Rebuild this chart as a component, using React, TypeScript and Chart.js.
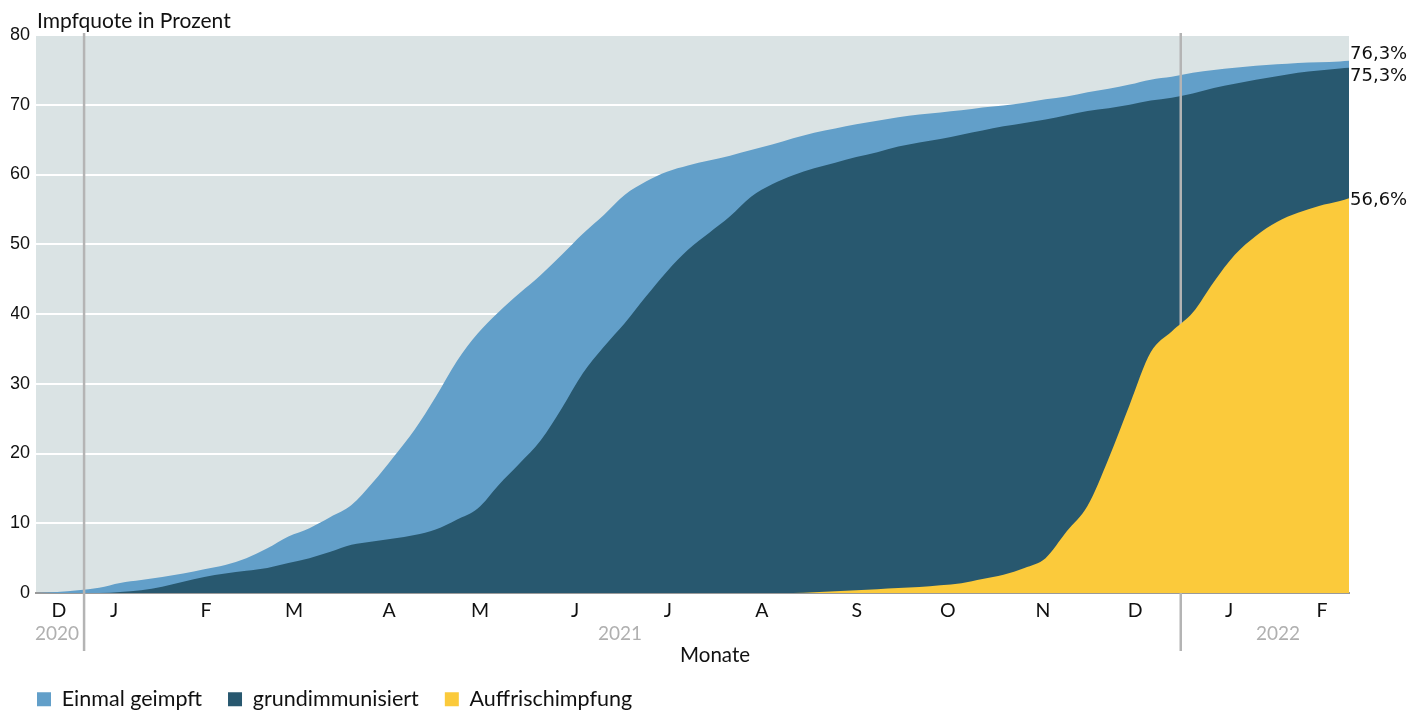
import React, { useEffect, useRef } from "react";
import { Chart, registerables } from "chart.js";

Chart.register(...registerables);

// Day index 0 = 16 Dec 2020, weekly samples, last = 26 Feb 2022
const days = [
  0, 7, 14, 21, 28, 35, 42, 49, 56, 63, 70, 77, 84, 91, 98, 105, 112, 119, 126, 133,
  140, 147, 154, 161, 168, 175, 182, 189, 196, 203, 210, 217, 224, 231, 238, 245, 252,
  259, 266, 273, 280, 287, 294, 301, 308, 315, 322, 329, 336, 343, 350, 357, 364, 371,
  378, 385, 392, 399, 406, 413, 420, 427, 434, 437,
];

const einmalGeimpft = [
  0, 0.15, 0.4, 0.76, 1.45, 1.86, 2.3, 2.8, 3.4, 4.0, 5.0, 6.4, 8.1, 9.3, 10.9, 12.6,
  15.8, 19.5, 23.4, 28.1, 33.2, 37.2, 40.3, 43.0, 45.6, 48.5, 51.5, 54.2, 57.1, 59.0,
  60.4, 61.3, 62.0, 62.7, 63.5, 64.3, 65.2, 66.0, 66.6, 67.2, 67.7, 68.2, 68.6, 68.9,
  69.2, 69.6, 69.9, 70.3, 70.8, 71.2, 71.8, 72.3, 72.9, 73.6, 74.0, 74.6, 75.0, 75.3,
  75.6, 75.8, 76.0, 76.1, 76.2, 76.3,
];

const grundimmunisiert = [
  0, 0, 0, 0, 0.15, 0.4, 0.9, 1.6, 2.3, 2.8, 3.2, 3.6, 4.3, 5.0, 5.9, 6.9, 7.4, 7.8,
  8.3, 9.1, 10.5, 12.1, 15.5, 18.6, 21.9, 26.5, 31.5, 35.3, 38.7, 42.5, 46.1, 49.2,
  51.6, 54.0, 56.8, 58.6, 59.9, 60.9, 61.7, 62.5, 63.2, 64.0, 64.6, 65.1, 65.7, 66.3,
  66.9, 67.4, 67.9, 68.5, 69.1, 69.5, 70.0, 70.6, 71.0, 71.6, 72.4, 73.0, 73.6, 74.1,
  74.6, 74.9, 75.2, 75.3,
];

const auffrischimpfung = [
  0, 0, 0, 0, 0, 0, 0, 0, 0, 0, 0, 0, 0, 0, 0, 0, 0, 0, 0, 0, 0, 0, 0, 0, 0, 0, 0, 0,
  0, 0, 0, 0, 0, 0, 0, 0, 0, 0.1, 0.25, 0.4, 0.55, 0.7, 0.85, 1.1, 1.4, 2.0, 2.6, 3.6,
  5.0, 8.8, 12.5, 19.3, 27.0, 34.5, 37.5, 40.2, 44.6, 48.5, 51.2, 53.2, 54.5, 55.5,
  56.2, 56.6,
];

const seriesNames = ["Einmal geimpft", "grundimmunisiert", "Auffrischimpfung"];
const seriesColors = ["#629fc9", "#28586f", "#fbca3b"];

const monthTickDays = [7.6, 26, 56.6, 85.9, 117.5, 147.8, 179.4, 210.3, 241.6, 273.2, 303.5, 335.1, 365.8, 397.1, 428];
const monthLabels = ["D", "J", "F", "M", "A", "M", "J", "J", "A", "S", "O", "N", "D", "J", "F"];
const yearLabels = ["2020", "2021", "2022"];
const yearLabelDays = [7, 194.4, 413.4];
const yearLineDays = [16, 381];
const xTitle = "Monate";
const xTitleDay = 226;
const yTitle = "Impfquote in Prozent";
const endLabelShift = [-6, 9, 2];

const fmt = (v: number) => v.toFixed(1).replace(".", ",") + "%";

export default function App() {
  const ref = useRef<HTMLCanvasElement | null>(null);

  useEffect(() => {
    document.body.style.margin = "0";
    document.body.style.overflow = "hidden";
    if (!ref.current) return;

    const allSeries = [einmalGeimpft, grundimmunisiert, auffrischimpfung];

    const decor = {
      id: "decor",
      beforeDraw(chart: any) {
        const { ctx, chartArea: a } = chart;
        ctx.save();
        ctx.fillStyle = "#dae3e4";
        ctx.fillRect(a.left, a.top, a.right - a.left, a.bottom - a.top);
        ctx.restore();
      },
      afterDatasetDraw(chart: any, args: any) {
        if (args.index !== 1) return;
        const { ctx, chartArea: a } = chart;
        const xs = chart.scales.x;
        ctx.save();
        ctx.strokeStyle = "#b4b4b4";
        ctx.lineWidth = 2.5;
        yearLineDays.forEach((d) => {
          const px = xs.getPixelForValue(d);
          ctx.beginPath();
          ctx.moveTo(px, a.top - 2);
          ctx.lineTo(px, a.bottom + 58);
          ctx.stroke();
        });
        ctx.restore();
      },
      afterDraw(chart: any) {
        const { ctx, chartArea: a } = chart;
        const xs = chart.scales.x;
        const ys = chart.scales.y;
        ctx.save();
        ctx.fillStyle = "#111";
        ctx.font = "21px Lato";
        ctx.textAlign = "left";
        ctx.textBaseline = "alphabetic";
        ctx.fillText(yTitle, a.left + 1, a.top - 7);
        ctx.fillStyle = "#b0b0b0";
        ctx.font = "19px Lato";
        ctx.textAlign = "center";
        ctx.textBaseline = "middle";
        yearLabels.forEach((t, i) => {
          ctx.fillText(t, xs.getPixelForValue(yearLabelDays[i]), a.bottom + 41);
        });
        ctx.fillStyle = "#111";
        ctx.font = "20.5px Lato";
        ctx.fillText(xTitle, xs.getPixelForValue(xTitleDay), a.bottom + 62);
        ctx.font = "18px 'DejaVu Sans'";
        ctx.textAlign = "left";
        allSeries.forEach((s, i) => {
          const v = s[s.length - 1];
          ctx.fillText(fmt(v), a.right + 1, ys.getPixelForValue(v) + endLabelShift[i]);
        });
        ctx.restore();
      },
    };

    const chart = new Chart(ref.current, {
      type: "line",
      data: {
        labels: days,
        datasets: allSeries.map((s, i) => ({
          label: seriesNames[i],
          data: s.map((v, j) => ({ x: days[j], y: v })),
          backgroundColor: seriesColors[i],
          borderColor: seriesColors[i],
          borderWidth: 0,
          pointRadius: 0,
          fill: "origin",
          cubicInterpolationMode: "monotone",
          order: 3 - i,
        })),
      },
      options: {
        animation: false,
        responsive: true,
        maintainAspectRatio: false,
        events: [],
        layout: { padding: { left: 11, right: 61, top: 35, bottom: -7 } },
        plugins: {
          legend: {
            position: "bottom",
            align: "start",
            labels: {
              boxWidth: 14,
              boxHeight: 14,
              padding: 26,
              color: "#111",
              font: { family: "Lato", size: 21.5 },
              sort: (a: any, b: any) => a.datasetIndex - b.datasetIndex,
            },
          },
          tooltip: { enabled: false },
        },
        scales: {
          x: {
            type: "linear",
            min: 0,
            max: 437,
            afterFit: (s: any) => {
              s.height = 69.5;
            },
            afterBuildTicks: (s: any) => {
              s.ticks = monthTickDays.map((v) => ({ value: v }));
            },
            ticks: {
              autoSkip: false,
              maxRotation: 0,
              padding: 6,
              color: "#111",
              font: { family: "Lato", size: 19.5 },
              callback: (_v: any, i: number) => monthLabels[i],
            },
            grid: { display: false, drawTicks: false },
            border: { display: true, color: "#9a9a9a", width: 2 },
          },
          y: {
            min: 0,
            max: 80,
            afterFit: (s: any) => {
              s.width = 25;
            },
            ticks: {
              stepSize: 10,
              padding: 6,
              color: "#111",
              font: { family: "Liberation Sans", size: 18 },
            },
            grid: {
              color: (c: any) => (c.tick && c.tick.value === 0 ? "rgba(0,0,0,0)" : "#ffffff"),
              lineWidth: 2,
              drawTicks: false,
            },
            border: { display: false },
          },
        },
      },
      plugins: [decor],
    } as any);

    return () => chart.destroy();
  }, []);

  return (
    <div style={{ width: 1410, height: 713, position: "relative" }}>
      <canvas ref={ref} />
    </div>
  );
}
